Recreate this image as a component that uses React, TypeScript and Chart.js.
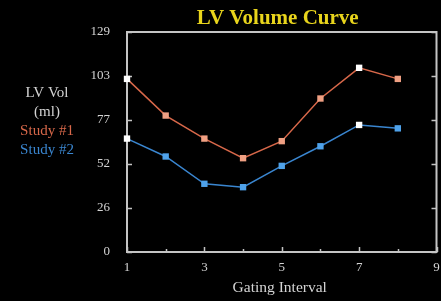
import React, { useEffect, useRef } from "react";
import { Chart, registerables } from "chart.js";

Chart.register(...registerables);

const gatingIntervals = [1, 2, 3, 4, 5, 6, 7, 8];
const study1 = [101.5, 80, 66.5, 55, 65, 90, 108, 101.5];
const study2 = [66.5, 56, 40, 38, 50.5, 62, 74.5, 72.5];
const highlightIdx = [0, 6];
const yTickValues = [0, 25.8, 51.6, 77.4, 103.2, 129];
const yTickLabels = ["0", "26", "52", "77", "103", "129"];
const xTickValues = [1, 3, 5, 7, 9];
const xMinorTicks = [2, 4, 6, 8];
const titleText = "LV Volume Curve";
const xTitle = "Gating Interval";
const sideLabels = ["LV Vol", "(ml)"];
const seriesNames = ["Study #1", "Study #2"];

const FONT = "'Liberation Serif', 'DejaVu Serif', serif";
const FRAME = "#c4c4c4";
const TEXT = "#d4d4d4";
const C1_LINE = "#d8684a";
const C1_PT = "#f0a083";
const C2_LINE = "#3a86d0";
const C2_PT = "#4fa2ea";

const framePlugin = {
  id: "frame",
  beforeDatasetsDraw(chart: any) {
    const { ctx, chartArea: a, scales } = chart;
    const y = scales.y;
    const x = scales.x;
    ctx.save();
    ctx.strokeStyle = FRAME;
    ctx.lineWidth = 2;
    ctx.strokeRect(a.left, a.top, a.right - a.left, a.bottom - a.top);
    ctx.lineWidth = 1.5;
    ctx.beginPath();
    yTickValues.forEach((v) => {
      const py = Math.round(y.getPixelForValue(v)) + 0.5;
      ctx.moveTo(a.left, py);
      ctx.lineTo(a.left + 5, py);
      ctx.moveTo(a.right, py);
      ctx.lineTo(a.right - 5, py);
    });
    xTickValues.forEach((v) => {
      const px = Math.round(x.getPixelForValue(v)) + 0.5;
      ctx.moveTo(px, a.bottom);
      ctx.lineTo(px, a.bottom - 5);
    });
    xMinorTicks.forEach((v) => {
      const px = Math.round(x.getPixelForValue(v)) + 0.5;
      ctx.moveTo(px, a.bottom);
      ctx.lineTo(px, a.bottom - 3);
    });
    ctx.stroke();
    ctx.restore();
  },
  afterDraw(chart: any) {
    const { ctx, chartArea: a } = chart;
    ctx.save();
    ctx.textAlign = "center";
    ctx.textBaseline = "middle";
    ctx.fillStyle = "#e8d41c";
    ctx.font = `bold 21px ${FONT}`;
    ctx.fillText(titleText, (a.left + a.right) / 2 - 4, 19);
    ctx.font = `15.5px ${FONT}`;
    ctx.fillStyle = TEXT;
    ctx.fillText(xTitle, (a.left + a.right) / 2 - 2, 288);
    ctx.font = `15px ${FONT}`;
    ctx.fillText(sideLabels[0], 47, 93);
    ctx.fillText(sideLabels[1], 47, 112);
    ctx.fillStyle = C1_LINE;
    ctx.fillText(seriesNames[0], 47, 131);
    ctx.fillStyle = C2_LINE;
    ctx.fillText(seriesNames[1], 47, 150);
    ctx.restore();
  },
};

export default function App() {
  const ref = useRef<HTMLCanvasElement>(null);
  useEffect(() => {
    document.body.style.margin = "0";
    document.body.style.background = "#000";
    const ptColors = (base: string) =>
      gatingIntervals.map((_, i) => (highlightIdx.includes(i) ? "#ffffff" : base));
    const chart = new Chart(ref.current!, {
      type: "line",
      data: {
        datasets: [
          {
            label: seriesNames[0],
            data: gatingIntervals.map((g, i) => ({ x: g, y: study1[i] })),
            borderColor: C1_LINE,
            borderWidth: 1.5,
            pointStyle: "rect",
            pointRadius: 4.5,
            pointBackgroundColor: ptColors(C1_PT),
            pointBorderColor: ptColors(C1_PT),
            pointBorderWidth: 0,
            clip: false,
          } as any,
          {
            label: seriesNames[1],
            data: gatingIntervals.map((g, i) => ({ x: g, y: study2[i] })),
            borderColor: C2_LINE,
            borderWidth: 1.5,
            pointStyle: "rect",
            pointRadius: 4.5,
            pointBackgroundColor: ptColors(C2_PT),
            pointBorderColor: ptColors(C2_PT),
            pointBorderWidth: 0,
            clip: false,
          } as any,
        ],
      },
      options: {
        responsive: false,
        animation: false,
        layout: { padding: { top: 32, right: 4, left: 0, bottom: 0 } },
        plugins: { legend: { display: false }, tooltip: { enabled: false }, title: { display: false } },
        scales: {
          x: {
            type: "linear",
            min: 1,
            max: 9,
            grid: { display: false, drawTicks: false },
            border: { display: false },
            afterBuildTicks: (s: any) => {
              s.ticks = xTickValues.map((v) => ({ value: v }));
            },
            afterFit: (s: any) => {
              s.height = 49;
              s.paddingRight = 0;
              s.paddingLeft = 0;
            },
            ticks: {
              color: TEXT,
              padding: 8,
              font: { family: FONT, size: 13 },
              maxRotation: 0,
              autoSkip: false,
              callback: (v: any) => String(v),
            },
          },
          y: {
            type: "linear",
            min: 0,
            max: 129,
            grid: { display: false, drawTicks: false },
            border: { display: false },
            afterBuildTicks: (s: any) => {
              s.ticks = yTickValues.map((v) => ({ value: v }));
            },
            afterFit: (s: any) => {
              s.width = 127;
              s.paddingTop = 0;
              s.paddingBottom = 0;
            },
            ticks: {
              color: TEXT,
              padding: 17,
              font: { family: FONT, size: 13 },
              autoSkip: false,
              callback: (v: any) => {
                const i = yTickValues.indexOf(Number(v));
                return i >= 0 ? yTickLabels[i] : "";
              },
            },
          },
        },
      },
      plugins: [framePlugin],
    });
    return () => chart.destroy();
  }, []);
  return (
    <div style={{ width: 441, height: 301, background: "#000" }}>
      <canvas ref={ref} width={441} height={301} />
    </div>
  );
}
